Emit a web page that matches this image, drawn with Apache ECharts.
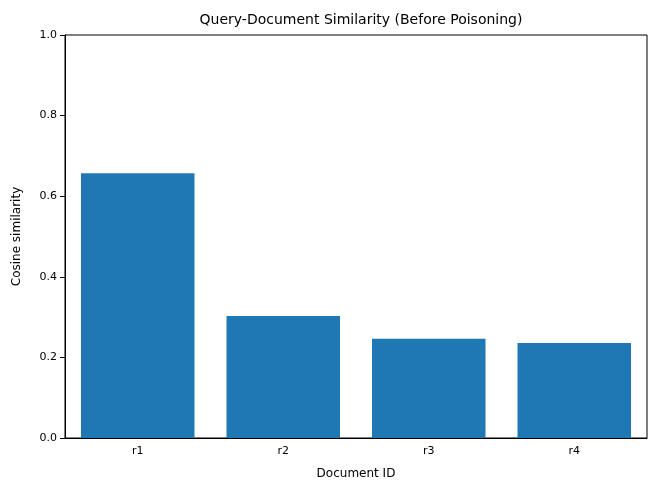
<!DOCTYPE html>
<html><head><meta charset="utf-8">
<script src="https://cdn.jsdelivr.net/npm/echarts@6/dist/echarts.min.js"></script>
<style>html,body{margin:0;padding:0;background:#fff}#c{width:666px;height:497px}</style>
</head><body><div id="c"></div>
<script>
const categories = ['r1','r2','r3','r4'];
const values = [0.657, 0.303, 0.246, 0.236];
const yTicks = [0, 0.2, 0.4, 0.6, 0.8, 1.0];
const chart = echarts.init(document.getElementById('c'));
const font = 'DejaVu Sans';
chart.setOption({
  animation: false,
  title: {text: 'Query-Document Similarity (Before Poisoning)', left: 356, top: 8, textAlign: 'center',
    textStyle: {fontFamily: font, fontSize: 14, fontWeight: 'normal', color: '#000'}},
  grid: {left: 65, right: 19, top: 35, bottom: 59},
  xAxis: {type: 'category', data: categories, name: 'Document ID', nameLocation: 'middle', nameGap: 30,
    nameTextStyle: {fontFamily: font, fontSize: 12, color: '#000'},
    axisLine: {lineStyle: {color: '#000'}}, axisTick: {alignWithLabel: true, lineStyle: {color: '#000'}},
    axisLabel: {fontFamily: font, fontSize: 11, color: '#000'}},
  yAxis: {type: 'value', min: 0, max: 1, interval: 0.2, name: 'Cosine similarity', nameLocation: 'middle', nameGap: 42,
    nameTextStyle: {fontFamily: font, fontSize: 12, color: '#000'},
    axisLine: {show: true, lineStyle: {color: '#000'}}, axisTick: {show: true, lineStyle: {color: '#000'}},
    splitLine: {show: false},
    axisLabel: {fontFamily: font, fontSize: 11, color: '#000', formatter: v => v.toFixed(1)}},
  series: [{type: 'bar', data: values, barWidth: '78%', itemStyle: {color: '#1f77b4'}}]
});
// draw top/right frame
chart.setOption({graphic: [{type: 'rect', shape: {x: 65, y: 35, width: 582, height: 403}, style: {fill: 'none', stroke: '#000', lineWidth: 1}, silent: true}]});
</script></body></html>
